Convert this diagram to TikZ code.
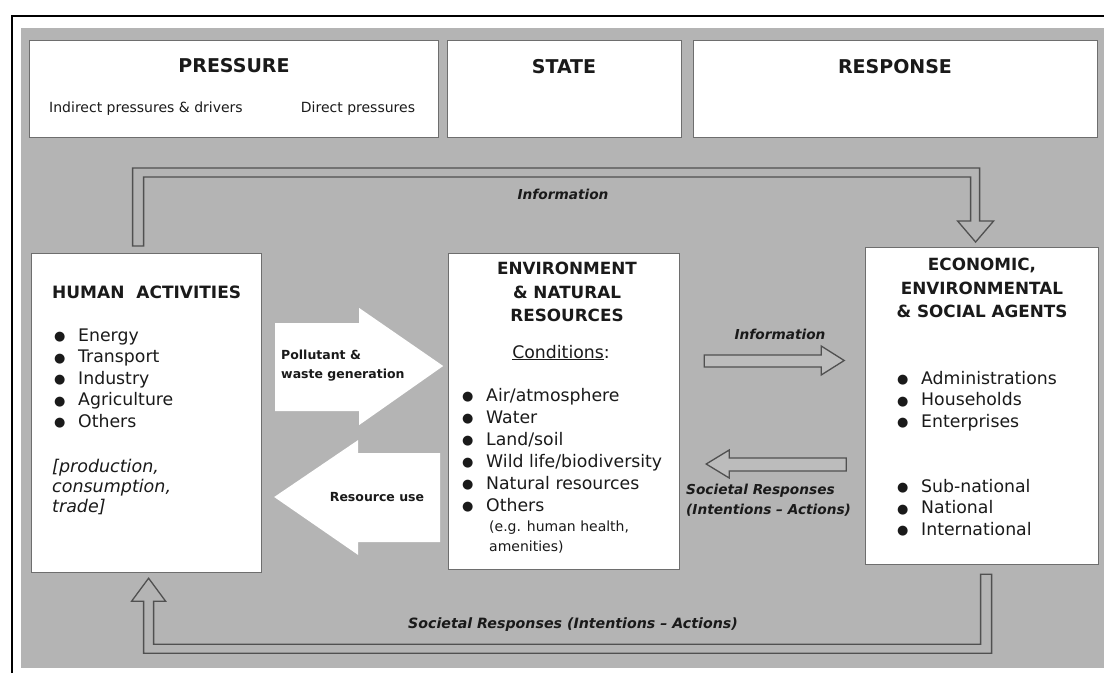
\documentclass[tikz,border=0pt]{standalone}
\usepackage{fontspec}
\setmainfont{DejaVu Sans}
\newfontfamily\symf{DejaVu Sans}
\usetikzlibrary{calc}
\definecolor{bgG}{HTML}{B4B4B4}
\definecolor{lineG}{HTML}{505050}
\definecolor{boxB}{HTML}{6E6E6E}
\definecolor{arrF}{HTML}{BCBCBC}
\definecolor{txt}{HTML}{1A1A1A}
\newcommand\bul{\makebox[24pt][l]{\raisebox{0.5pt}{\fontsize{13}{13}\symf ●}}}
\begin{document}
\begin{tikzpicture}[x=1pt,y=-1pt,
  every node/.style={text=txt},
  box/.style={draw=boxB, line width=1.2pt, fill=white, inner sep=0, anchor=north west},
  hollow/.style={draw=lineG, line width=1.3pt, fill=bgG, line join=miter},
  bigarrow/.style={fill=white, draw=none},
  ttl/.style={font=\bfseries\fontsize{19}{22}\selectfont, inner sep=0},
  sub/.style={font=\fontsize{14}{17}\selectfont, inner sep=0},
  btitle/.style={font=\bfseries\fontsize{16.8}{23.5}\selectfont, inner sep=0, align=center},
  item/.style={font=\fontsize{17.3}{20}\selectfont, inner sep=0, anchor=west, text height=12pt, text depth=4pt},
  note/.style={font=\fontsize{14}{17}\selectfont, inner sep=0, anchor=west, text height=10pt, text depth=3pt},
  lbl/.style={font=\bfseries\fontsize{12.5}{19}\selectfont, inner sep=0},
  ilbl/.style={font=\bfseries\itshape\fontsize{13.7}{20}\selectfont, inner sep=0}
]
\useasboundingbox (0,0) rectangle (1104,673);
\fill[white] (0,0) rectangle (1104,673);
\fill[bgG] (21,28) rectangle (1104,668);
\draw[line width=1.6pt] (12,673) -- (12,16) -- (1104,16);

% header boxes
\node[box, minimum width=409pt, minimum height=97pt] (pressure) at (29,40) {};
\node[box, minimum width=234pt, minimum height=97pt] (state) at (447,40) {};
\node[box, minimum width=404pt, minimum height=97pt] (response) at (693,40) {};
\node[ttl] (tP) at (234,66) {PRESSURE};
\node[sub] (tP1) at (146,109) {Indirect pressures \& drivers};
\node[sub] (tP2) at (358,109) {Direct pressures};
\node[ttl] (tS) at (564,67) {STATE};
\node[ttl] (tR) at (895,67) {RESPONSE};

% main boxes
\node[box, minimum width=230pt, minimum height=319pt] (human) at (31,253) {};
\node[box, minimum width=231pt, minimum height=316pt] (env) at (448,253) {};
\node[box, minimum width=233pt, minimum height=317pt] (econ) at (865,247) {};

% human activities
\node[font=\bfseries\fontsize{17}{22}\selectfont, inner sep=0, anchor=west] (tH) at (52,292) {HUMAN\ \ ACTIVITIES};
\foreach \t [count=\i] in {Energy,Transport,Industry,Agriculture,Others}
  \node[item] (ha\i) at (54,{337+(\i-1)*21.5}) {\bul\t};
\node[item, font=\itshape\fontsize{17.5}{20}\selectfont] (hp1) at (52,468) {[production,};
\node[item, font=\itshape\fontsize{17.5}{20}\selectfont] (hp2) at (52,488) {consumption,};
\node[item, font=\itshape\fontsize{17.5}{20}\selectfont] (hp3) at (52,508) {trade]};

% environment
\node[btitle] (tE) at (567,292) {ENVIRONMENT\\\& NATURAL\\RESOURCES};
\node[item, anchor=center] (cond) at (561,354) {\underline{Conditions}:};
\foreach \t [count=\i] in {Air/atmosphere,Water,Land/soil,Wild life/biodiversity,Natural resources,Others}
  \node[item] (en\i) at (462,{397+(\i-1)*22}) {\bul\t};
\node[note] (eg1) at (489,528) {(e.g. human health,};
\node[note] (eg2) at (489,548) {amenities)};

% agents
\node[btitle] (tA) at (982,288) {ECONOMIC,\\ENVIRONMENTAL\\\& SOCIAL AGENTS};
\foreach \t [count=\i] in {Administrations,Households,Enterprises}
  \node[item] (ag\i) at (897,{380+(\i-1)*21.5}) {\bul\t};
\foreach \t [count=\i] in {Sub-national,National,International}
  \node[item] (al\i) at (897,{488+(\i-1)*21.5}) {\bul\t};

% big white arrows
\fill[bigarrow] ($(human.north east)+(13pt,-70pt)$) -- ++(84,0) -- ++(0,-15) -- ++(84,58)
  -- ++(-84,59) -- ++(0,-14) -- ++(-84,0) -- cycle;
\fill[bigarrow] ($(human.north east)+(12pt,-244pt)$) -- ++(84,-57) -- ++(0,13) -- ++(82,0)
  -- ++(0,89) -- ++(-82,0) -- ++(0,13) -- cycle;
\node[lbl, anchor=west, align=left] (pw) at (281,366) {Pollutant \&\\waste generation};
\node[lbl] (ru) at (377,497) {Resource use};

% middle hollow arrows
\draw[hollow, fill=arrF] ($(env.north east)+(24pt,-102pt)$) -- ++(117,0) -- ++(0,-9) -- ++(23,14.5)
  -- ++(-23,14.5) -- ++(0,-8) -- ++(-117,0) -- cycle;
\draw[hollow, fill=arrF] ($(env.north east)+(26pt,-211pt)$) -- ++(23,-14) -- ++(0,8) -- ++(117,0)
  -- ++(0,13) -- ++(-117,0) -- ++(0,7) -- cycle;
\node[ilbl] (i2) at (780,334) {Information};
\node[ilbl, anchor=west, align=left] (sr) at (686,500) {Societal Responses\\(Intentions -- Actions)};

% top information loop
\coordinate (infoStart) at ([xshift=-14pt,yshift=7pt]human.north);
\draw[hollow] (infoStart) -- ++(0,-78) -- ++(847,0) -- ++(0,53) -- ++(14,0) -- ++(-18,21)
  -- ++(-18,-21) -- ++(13,0) -- ++(0,-44) -- ++(-827,0) -- ++(0,69) -- cycle;
\node[ilbl] (i1) at (563,194) {Information};

% bottom societal responses loop
\coordinate (respStart) at ([xshift=-1.5pt,yshift=-9pt]econ.south);
\draw[hollow] (respStart) -- ++(11,0) -- ++(0,79) -- ++(-848,0) -- ++(0,-52) -- ++(-12,0)
  -- ++(17,-23) -- ++(17,23) -- ++(-12,0) -- ++(0,43) -- ++(827,0) -- cycle;
\node[ilbl, font=\bfseries\itshape\fontsize{14.2}{20}\selectfont] (sr2) at (573,625) {Societal Responses (Intentions -- Actions)};
\end{tikzpicture}
\end{document}
